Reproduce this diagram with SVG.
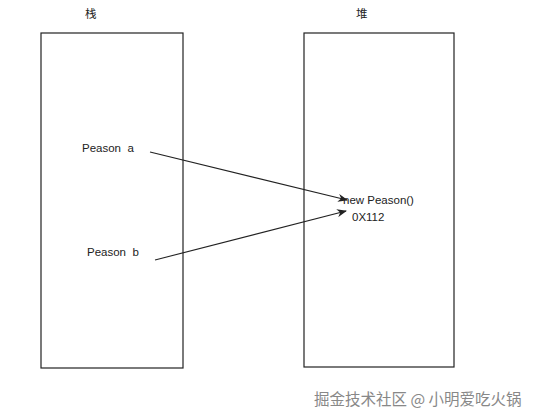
<svg xmlns="http://www.w3.org/2000/svg" width="533" height="419" viewBox="0 0 533 419">
<style>
.box{fill:#fff;stroke:#222;stroke-width:1.2}
.t{font-family:"Liberation Sans","Noto Sans CJK SC",sans-serif;font-size:11.5px;fill:#222;white-space:pre}
.c{stroke:#222;stroke-width:1.1;fill:none;marker-end:url(#ah)}
.wm{font-family:"Noto Sans CJK SC",sans-serif;font-size:15.5px;fill:#888}
</style>
<defs>
<marker id="ah" markerWidth="10" markerHeight="8" refX="9" refY="4" orient="auto" markerUnits="userSpaceOnUse">
<path d="M0,0 L10,4 L0,8 L3,4 Z" fill="#222"/>
</marker>
</defs>
<rect width="533" height="419" fill="#fff"/>
<g id="stack">
<rect class="box" x="41" y="33" width="142" height="335"/>
<text class="t" x="85" y="18">栈</text>
</g>
<g id="heap">
<rect class="box" x="304" y="33" width="150" height="334"/>
<text class="t" x="356" y="18">堆</text>
</g>
<g id="pa"><text class="t" x="82" y="152" xml:space="preserve">Peason  a</text></g>
<g id="pb"><text class="t" x="87" y="256" xml:space="preserve">Peason  b</text></g>
<g id="obj">
<text class="t" x="343" y="204">new Peason()</text>
<text class="t" x="352" y="221">0X112</text>
</g>
<g id="connectors">
<path class="c" d="M150,152 L347,200"/>
<path class="c" d="M155,260 L346,211"/>
</g>
<text class="wm" x="314" y="405">掘金技术社区 @ 小明爱吃火锅</text>
</svg>
